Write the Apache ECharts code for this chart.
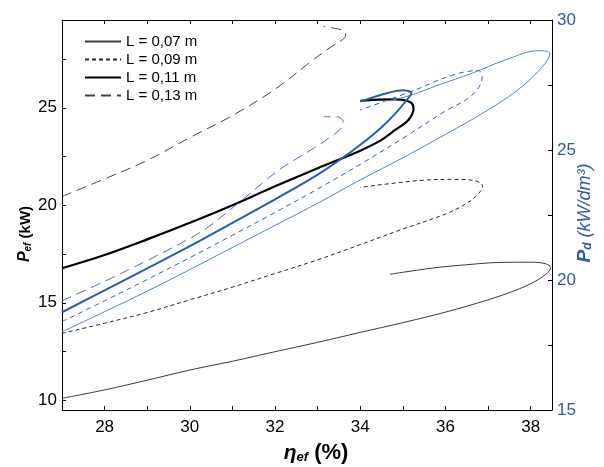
<!DOCTYPE html>
<html>
<head>
<meta charset="utf-8">
<script src="https://cdn.jsdelivr.net/npm/echarts@6/dist/echarts.min.js"></script>
<style>html,body{margin:0;padding:0;background:#fff;}#c{width:604px;height:467px;}</style>
</head>
<body>
<div id="c"></div>
<script>
// ---- data ----
const legendNames = ['L = 0,07 m', 'L = 0,09 m', 'L = 0,11 m', 'L = 0,13 m'];
const xTicks = [27, 28, 29, 30, 31, 32, 33, 34, 35, 36, 37, 38];
const xLabels = [28, 30, 32, 34, 36, 38];
const yLeftTicks = [10, 12.5, 15, 17.5, 20, 22.5, 25, 27.5];
const yLeftLabels = [10, 15, 20, 25];
const yRightTicks = [15, 17.5, 20, 22.5, 25, 27.5, 30];
const yRightLabels = [15, 20, 25, 30];

// Pef (kW) vs eta_ef (%) - left axis
const pef007 = [[27,10.1],[28,10.53],[29,11.03],[30,11.55],[31,12.0],[32,12.49],[33,12.97],[34,13.48],[35,13.98],[36,14.52],[37,15.15],[37.6,15.6],[38.02,16.0],[38.35,16.45],[38.47,16.8],[38.35,17.0],[38.0,17.08],[37.3,17.07],[36.5,16.95],[35.7,16.78],[34.7,16.46]];
const pef009 = [[27,13.43],[28,13.95],[29,14.5],[30,15.15],[31,15.8],[32,16.5],[33,17.2],[34,17.98],[35,18.78],[36,19.55],[36.5,20.1],[36.78,20.6],[36.87,21.0],[36.7,21.25],[36.2,21.33],[35.4,21.27],[34.0,20.92]];
const pef011 = [[27,16.77],[28,17.45],[29,18.25],[30,19.1],[31,20.0],[32,20.97],[33,21.9],[34,22.8],[34.5,23.35],[34.82,23.86],[35.13,24.37],[35.25,24.97],[35.21,25.23],[35.09,25.36],[34.82,25.43],[34.4,25.42],[34.0,25.35]];
const pef013 = [[27,20.45],[28,21.35],[29,22.3],[30,23.47],[31,24.6],[32,25.95],[32.79,27.28],[33.3,28.1],[33.57,28.47],[33.66,28.73],[33.6,28.95],[33.41,29.07],[33.14,29.16]];

// Pd (kW/dm3) vs eta_ef (%) - right axis
const pd007 = [[27,18.01],[28,18.78],[29,19.57],[30,20.4],[31,21.25],[32,22.1],[33,22.95],[34,23.85],[35,24.7],[36,25.6],[37,26.54],[37.79,27.43],[38.34,28.33],[38.45,28.72],[38.18,28.82],[37.4,28.46],[36.62,27.95],[35.84,27.5],[35.21,27.12],[34.7,26.9]];
const pd009 = [[27,18.4],[28,19.2],[29,20.02],[30,20.86],[31,21.72],[32,22.6],[33,23.5],[34,24.45],[35,25.45],[36,26.5],[36.5,26.95],[36.78,27.4],[36.86,27.8],[36.77,28.06],[36.31,27.95],[35.84,27.69],[35.29,27.31],[34.0,26.54]];
const pd011 = [[27,18.76],[28,19.6],[29,20.45],[30,21.3],[31,22.2],[32,23.1],[33,24.05],[33.84,25.0],[34.43,25.77],[34.82,26.4],[35.13,27.0],[35.2,27.2],[35.0,27.3],[34.66,27.2],[34.0,26.86]];
const pd013 = [[27,19.2],[28,19.95],[29,20.75],[30,21.6],[30.44,22.05],[31.23,23.08],[32.09,24.23],[32.79,24.95],[33.3,25.5],[33.58,25.9],[33.6,26.1],[33.45,26.28],[33.14,26.28]];

// ---- chart ----
const FONT = "'Liberation Sans', Arial, sans-serif";
const BLUE_TXT = '#2f5aa8';
const chart = echarts.init(document.getElementById('c'), null, {renderer: 'canvas'});

function line(name, data, yIdx, color, width, type) {
  return {
    name: name, type: 'line', data: data, xAxisIndex: 0, yAxisIndex: yIdx,
    showSymbol: false, symbol: 'none', smooth: 0.35, silent: true,
    lineStyle: {color: color, width: width, type: type},
    itemStyle: {color: color}
  };
}

const option = {
  animation: false,
  backgroundColor: '#fff',
  grid: {left: 62, right: 52, top: 20, bottom: 57, containLabel: false, outerBoundsMode: 'none'},
  legend: {
    orient: 'vertical', left: 79, top: 29, itemWidth: 36, itemHeight: 10, itemGap: 3,
    data: legendNames, selectedMode: false,
    itemStyle: {opacity: 0},
    textStyle: {fontFamily: FONT, fontSize: 15, color: '#000'}
  },
  xAxis: [{
    type: 'value', position: 'bottom', min: 27, max: 38.5,
    axisLine: {show: true, lineStyle: {color: '#000', width: 1}},
    axisTick: {show: true, inside: true, length: 4, customValues: xTicks, lineStyle: {color: '#000'}},
    axisLabel: {customValues: xLabels, fontFamily: FONT, fontSize: 17, color: '#000', margin: 9},
    splitLine: {show: false},
    name: '{eta|η}{sub|ef}{par| (%)}', nameLocation: 'middle', nameGap: 30, nameMoveOverlap: false,
    nameTextStyle: {
      padding: [0, 0, 0, 18],
      rich: {
        eta: {fontFamily: FONT, fontSize: 21, fontWeight: 'bold', fontStyle: 'italic', color: '#000', verticalAlign: 'bottom', lineHeight: 24},
        sub: {fontFamily: FONT, fontSize: 13, fontWeight: 'bold', fontStyle: 'italic', color: '#000', verticalAlign: 'bottom', lineHeight: 14},
        par: {fontFamily: FONT, fontSize: 22, fontWeight: 'bold', color: '#000', verticalAlign: 'bottom', lineHeight: 24}
      }
    }
  }, {
    type: 'value', position: 'top', min: 27, max: 38.5,
    axisLine: {show: true, lineStyle: {color: '#000', width: 1}},
    axisTick: {show: true, inside: true, length: 4, customValues: xTicks, lineStyle: {color: '#000'}},
    axisLabel: {show: false},
    splitLine: {show: false}
  }],
  yAxis: [{
    type: 'value', position: 'left', min: 9.5, max: 29.5,
    axisLine: {show: true, lineStyle: {color: '#000', width: 1}},
    axisTick: {show: true, inside: true, length: 4, customValues: yLeftTicks, lineStyle: {color: '#000'}},
    axisLabel: {customValues: yLeftLabels, fontFamily: FONT, fontSize: 17, color: '#000', margin: 5},
    splitLine: {show: false},
    name: '{p|P}{sub|ef}{u| (kW)}{sp| }', nameLocation: 'middle', nameRotate: 90, nameGap: 29, nameMoveOverlap: false,
    nameTextStyle: {
      rich: {
        p: {fontFamily: FONT, fontSize: 16, fontWeight: 'bold', fontStyle: 'italic', color: '#000', verticalAlign: 'bottom', lineHeight: 19},
        sub: {fontFamily: FONT, fontSize: 10, fontWeight: 'bold', fontStyle: 'italic', color: '#000', verticalAlign: 'bottom', lineHeight: 11},
        u: {fontFamily: FONT, fontSize: 15, fontWeight: 'bold', color: '#000', verticalAlign: 'bottom', lineHeight: 19},
        sp: {fontSize: 15, width: 38, lineHeight: 19, verticalAlign: 'bottom'}
      }
    }
  }, {
    type: 'value', position: 'right', min: 15, max: 30,
    axisLine: {show: true, lineStyle: {color: '#000', width: 1}},
    axisTick: {show: true, inside: true, length: 4, customValues: yRightTicks, lineStyle: {color: '#000'}},
    axisLabel: {customValues: yRightLabels, fontFamily: FONT, fontSize: 17, color: BLUE_TXT, margin: 5},
    splitLine: {show: false},
    name: '{sp| }{p|P}{sub|d}{u| (kW/dm³)}', nameLocation: 'middle', nameRotate: 90, nameGap: 20, nameMoveOverlap: false,
    nameTextStyle: {
      rich: {
        p: {fontFamily: FONT, fontSize: 19, fontWeight: 'bold', fontStyle: 'italic', color: BLUE_TXT, verticalAlign: 'bottom', lineHeight: 22},
        sub: {fontFamily: FONT, fontSize: 12, fontWeight: 'bold', fontStyle: 'italic', color: BLUE_TXT, verticalAlign: 'bottom', lineHeight: 13},
        u: {fontFamily: FONT, fontSize: 18, fontStyle: 'italic', color: BLUE_TXT, verticalAlign: 'bottom', lineHeight: 22},
        sp: {fontSize: 16, width: 4, lineHeight: 22, verticalAlign: 'bottom'}
      }
    }
  }],
  series: [
    line(legendNames[0], pef007, 0, '#3a3a3a', 1, 'solid'),
    line(legendNames[1], pef009, 0, '#2a2a2a', 1, [4, 3]),
    line(legendNames[2], pef011, 0, '#000000', 2.2, 'solid'),
    line(legendNames[3], pef013, 0, '#454545', 1, [10, 6]),
    line(legendNames[0], pd007, 1, '#4f86d0', 1, 'solid'),
    line(legendNames[1], pd009, 1, '#2f62b8', 1, [5, 4]),
    line(legendNames[2], pd011, 1, '#2a5cb0', 2, 'solid'),
    line(legendNames[3], pd013, 1, '#3e72c4', 1, [10, 6])
  ]
};
chart.setOption(option);
</script>
</body>
</html>
